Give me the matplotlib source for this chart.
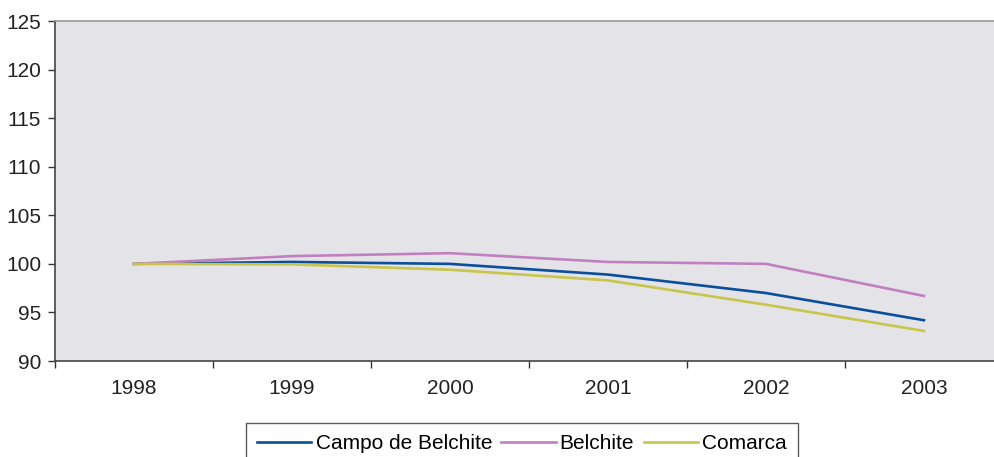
import matplotlib.pyplot as plt
import numpy as np

plt.rcParams['font.family'] = ['Liberation Sans', 'DejaVu Sans']

years = ['1998', '1999', '2000', '2001', '2002', '2003']
campo = [100.0, 100.2, 100.0, 98.9, 97.0, 94.2]
belchite = [100.0, 100.8, 101.1, 100.2, 100.0, 96.7]
comarca = [100.0, 99.95, 99.4, 98.3, 95.8, 93.1]

fig = plt.figure(figsize=(9.95, 4.57), dpi=100)
ax = fig.add_axes([0.0553, 0.21, 0.9447, 0.744])
ax.set_facecolor('#e4e3e8')

x = np.arange(len(years))
ax.plot(x, campo, color='#0a4f9e', lw=1.9, label='Campo de Belchite')
ax.plot(x, belchite, color='#c080c0', lw=1.9, label='Belchite')
ax.plot(x, comarca, color='#c8c64a', lw=1.9, label='Comarca')

ax.set_xlim(-0.5, 5.45)
ax.set_ylim(90, 125)
ax.set_yticks(np.arange(90, 126, 5))
ax.set_xticks(x)
ax.set_xticklabels(years)
ax.set_xticks(np.arange(-0.5, 5.5, 1), minor=True)
ax.tick_params(axis='x', which='major', length=0, pad=13, labelsize=15, colors='#222222')
ax.tick_params(axis='x', which='minor', length=5, width=1, color='#333333')
ax.tick_params(axis='y', length=5, width=1, color='#333333', pad=5, labelsize=15, labelcolor='#222222')

ax.spines['left'].set_color('#444444')
ax.spines['bottom'].set_color('#444444')
ax.spines['top'].set_color('#999999')
ax.spines['right'].set_visible(False)
for s in ['left', 'bottom', 'top']:
    ax.spines[s].set_linewidth(1.2)

leg = ax.legend(loc='upper center', bbox_to_anchor=(0.5245, 0.075), bbox_transform=fig.transFigure,
                ncol=3, frameon=True, fancybox=False, fontsize=15, handlelength=2.6,
                handletextpad=0.2, columnspacing=0.45, borderpad=0.55, borderaxespad=0)
leg.get_frame().set_edgecolor('#333333')
leg.get_frame().set_linewidth(1.0)

fig.savefig('out.png', dpi=100)
